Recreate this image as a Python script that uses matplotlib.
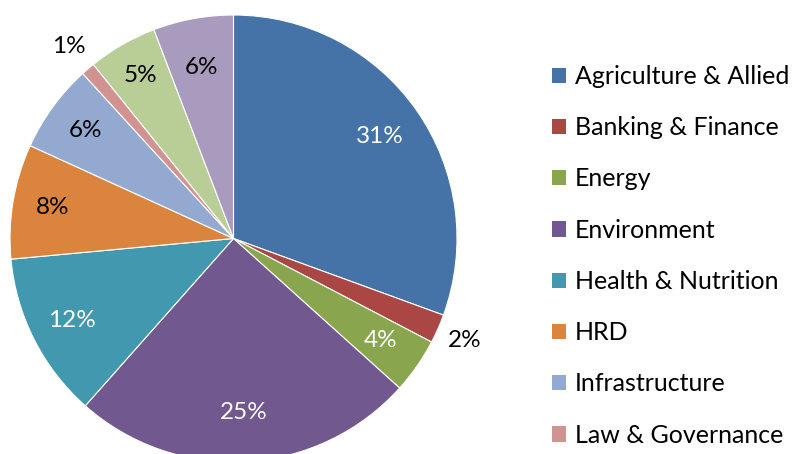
import matplotlib
matplotlib.use("Agg")
import matplotlib.pyplot as plt
from matplotlib.patches import Patch
import numpy as np

categories = ["Agriculture & Allied", "Banking & Finance", "Energy", "Environment",
              "Health & Nutrition", "HRD", "Infrastructure", "Law & Governance",
              "Rural Development", "Others"]
values = [30.6, 2.1, 4.0, 24.9, 12.0, 8.3, 6.4, 1.0, 5.0, 5.8]
colors = ["#4572A7", "#AA4643", "#89A54E", "#71588F", "#4198AF",
          "#DB843D", "#93A9CF", "#D19392", "#B9CD96", "#A99BBD"]
label_colors = ["white", "black", "white", "white", "white",
                "black", "black", "black", "black", "black"]
label_dist = [0.80, 1.13, 0.80, 0.78, 0.81, 0.82, 0.82, 1.13, 0.84, 0.78]
legend_count = 8

plt.rcParams['font.family'] = ['Lato', 'DejaVu Sans']

W, H = 793, 454
fig = plt.figure(figsize=(W / 100, H / 100), dpi=100)
cx, cy, R = 233.5, 238.5, 223.5
ax = fig.add_axes([(cx - R) / W, (H - cy - R) / H, 2 * R / W, 2 * R / H])
ax.set_xlim(-1, 1)
ax.set_ylim(-1, 1)
ax.set_aspect('equal')
ax.axis('off')

wedges, _ = ax.pie(values, colors=colors, startangle=90, counterclock=False,
                   radius=1.0, wedgeprops=dict(edgecolor='white', linewidth=0.8),
                   frame=False)
ax.set_xlim(-1, 1)
ax.set_ylim(-1, 1)

total = sum(values)
for w, v, lc, d in zip(wedges, values, label_colors, label_dist):
    ang = np.deg2rad((w.theta1 + w.theta2) / 2)
    ax.text(d * np.cos(ang), d * np.sin(ang), f"{round(100 * v / total):d}%",
            ha='center', va='center', color=lc, fontsize=17.5)

handles = [Patch(facecolor=c, edgecolor='none') for c in colors[:legend_count]]
fig.legend(handles, categories[:legend_count], loc='upper left',
           bbox_to_anchor=(552 / W, 1 - 65 / H), frameon=False, fontsize=18,
           handlelength=0.56, handleheight=0.56, handletextpad=0.36,
           labelspacing=1.13, borderpad=0, borderaxespad=0)

fig.savefig("out.png", dpi=100)
